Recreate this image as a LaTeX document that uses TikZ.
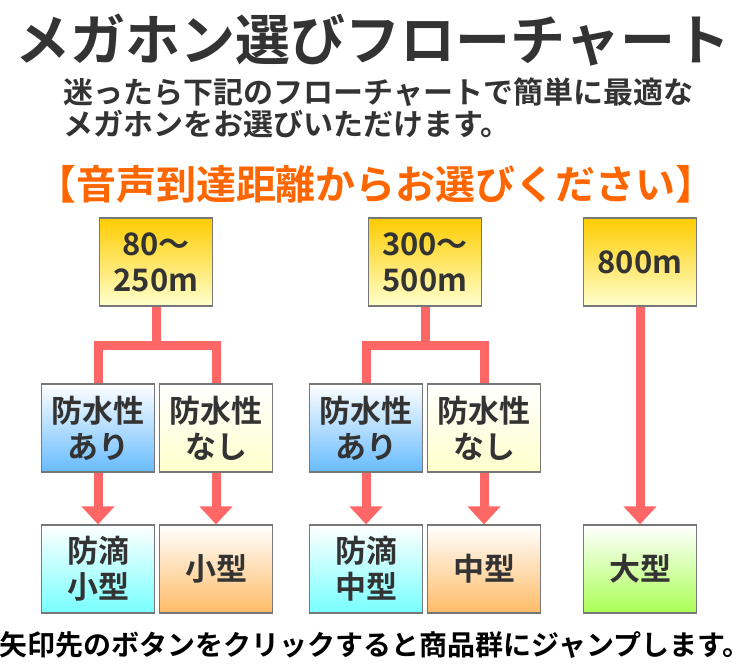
\documentclass[tikz,border=0pt]{standalone}
\usepackage{fontspec}
\setmainfont{Noto Sans CJK JP}[BoldFont={Noto Sans CJK JP Bold}]
\newfontfamily\jpb{Noto Sans CJK JP Bold}
\usetikzlibrary{arrows.meta}
\definecolor{tx}{HTML}{333333}
\definecolor{ln}{HTML}{FF6666}
\definecolor{bd}{HTML}{777777}
\tikzset{
 box/.style={draw=bd,line width=1.2pt,minimum width=113pt,minimum height=88pt,align=center,font=\jpb\fontsize{31}{36}\selectfont,text=tx,inner sep=0pt},
 yel/.style={box,top color={rgb,255:red,255;green,204;blue,0},bottom color={rgb,255:red,255;green,255;blue,204}},
 blu/.style={box,top color=white,bottom color={rgb,255:red,102;green,187;blue,255}},
 pyel/.style={box,top color=white,bottom color={rgb,255:red,255;green,255;blue,204}},
 cya/.style={box,top color=white,bottom color={rgb,255:red,119;green,255;blue,255}},
 ora/.style={box,top color=white,bottom color={rgb,255:red,255;green,187;blue,102}},
 grn/.style={box,top color=white,bottom color={rgb,255:red,170;green,255;blue,85}},
 con/.style={ln,line width=9pt},
 arr/.style={con,-{Triangle[length=18pt,width=32pt]}},
}
\begin{document}
\begin{tikzpicture}[x=1pt,y=-1pt]
\useasboundingbox (0,0) rectangle (750,670);
\node[font=\jpb\fontsize{55}{60}\selectfont,text=tx] (title) at (373,40) {メガホン選びフローチャート};
\node[font=\jpb\fontsize{30}{32}\selectfont,text=tx,align=left,anchor=west] (sub) at (60,108) {迷ったら下記のフローチャートで簡単に最適な\\メガホンをお選びいただけます。};
\node[font=\jpb\fontsize{40}{44}\selectfont,text={rgb,255:red,255;green,102;blue,0}] (head) at (376,184) {【音声到達距離からお選びください】};
\node[yel] (a1) at (156,262) {80～\\250m};
\node[yel] (a2) at (425,262) {300～\\500m};
\node[yel] (a3) at (640,262) {800m};
\node[blu] (b1) at (98,428) {防水性\\あり};
\node[pyel] (b2) at (216,428) {防水性\\なし};
\node[blu] (b3) at (366,428) {防水性\\あり};
\node[pyel] (b4) at (484,428) {防水性\\なし};
\node[cya] (c1) at (98,569) {防滴\\小型};
\node[ora] (c2) at (216,569) {小型};
\node[cya] (c3) at (366,569) {防滴\\中型};
\node[ora] (c4) at (484,569) {中型};
\node[grn] (c5) at (640,569) {大型};
\coordinate (j1) at (156,345);
\coordinate (j2) at (425,345);
\draw[con] (a1.south) -- (j1);
\draw[con] (b1.north) |- (j1) -| (b2.north);
\draw[con] (a2.south) -- (j2);
\draw[con] (b3.north) |- (j2) -| (b4.north);
\draw[arr] (b1.south) -- (c1.north);
\draw[arr] (b2.south) -- (c2.north);
\draw[arr] (b3.south) -- (c3.north);
\draw[arr] (b4.south) -- (c4.north);
\draw[arr] (a3.south) -- (c5.north);
\node[font=\jpb\fontsize{28}{30}\selectfont,text=black] (foot) at (375,645) {矢印先のボタンをクリックすると商品群にジャンプします。};
\end{tikzpicture}
\end{document}
